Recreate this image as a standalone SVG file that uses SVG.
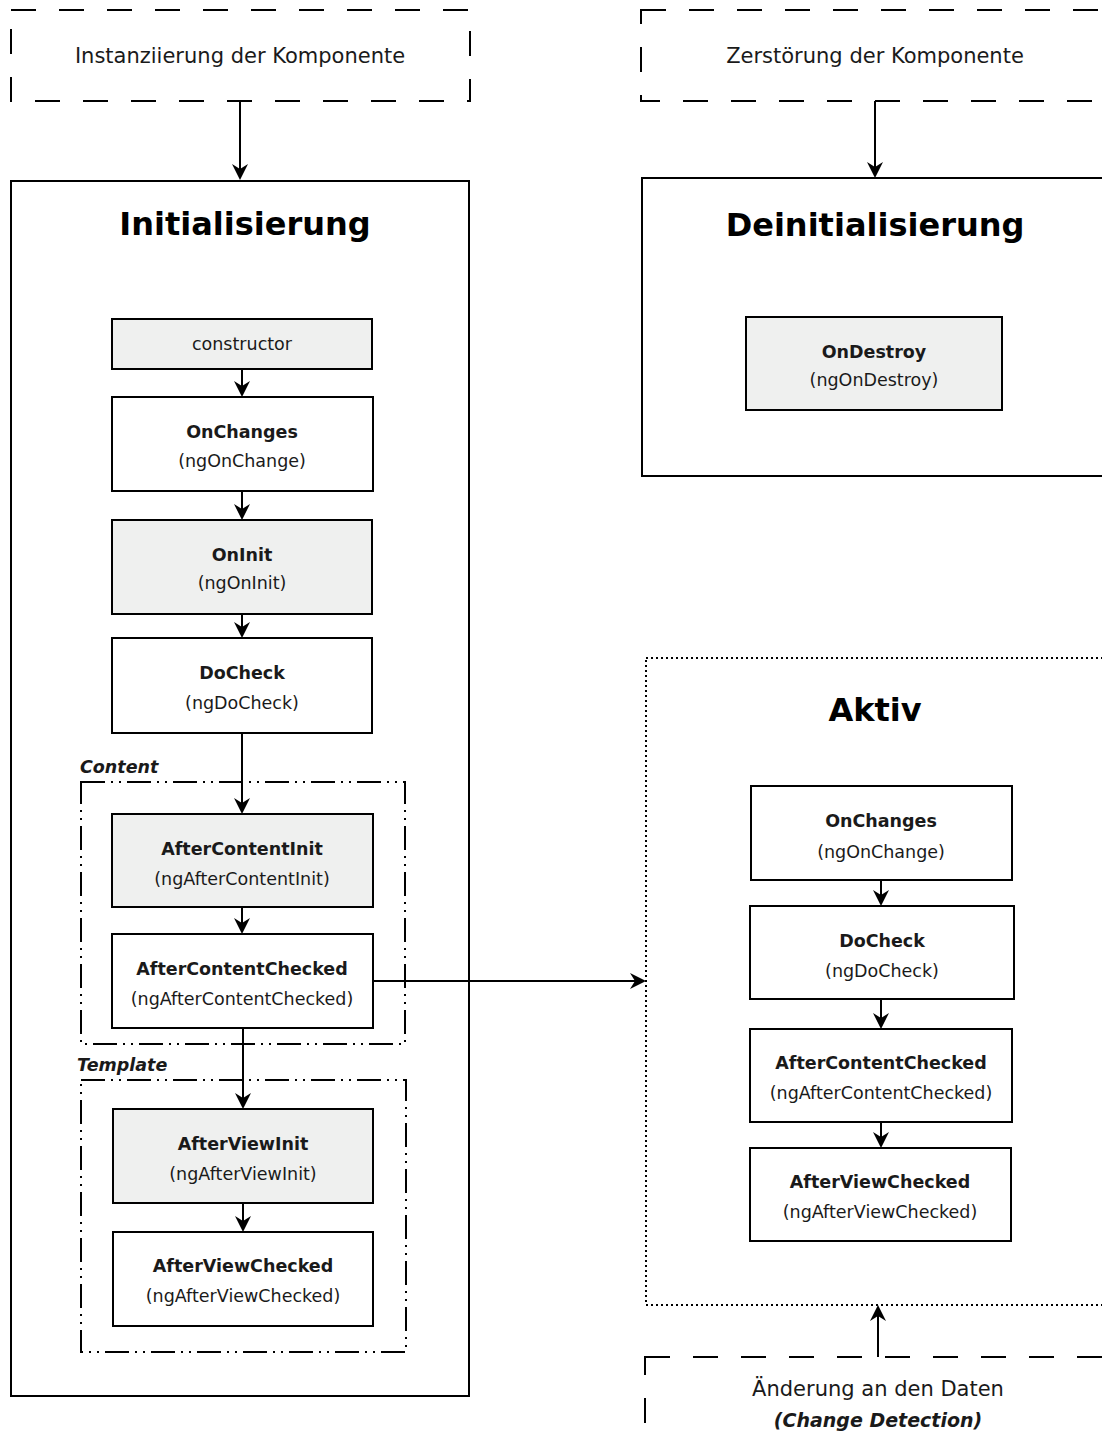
<svg xmlns="http://www.w3.org/2000/svg" width="1102" height="1444" viewBox="0 0 1102 1444">
<style>
  text { font-family: "DejaVu Sans", "Liberation Sans", sans-serif; fill: #1a1a1a; text-anchor: middle; }
  .title { font-size: 32px; font-weight: bold; fill: #000; }
  .ev { font-size: 21px; }
  .b { font-size: 17.5px; font-weight: bold; }
  .n { font-size: 17.5px; }
  .lbl { font-size: 17.5px; font-weight: bold; font-style: italic; text-anchor: start; }
  .bi { font-size: 19px; font-weight: bold; font-style: italic; }
  .box { fill: #fff; stroke: #000; stroke-width: 2; }
  .gray { fill: #eff0ef; stroke: #000; stroke-width: 2; }
  .dash { fill: none; stroke: #000; stroke-width: 2; stroke-dasharray: 25 23; }
  .dashdot { fill: none; stroke: #000; stroke-width: 2; stroke-dasharray: 24 6 2 6 2 6; }
  .dot { fill: none; stroke: #000; stroke-width: 2; stroke-dasharray: 2 3; }
  .conn { fill: none; stroke: #000; stroke-width: 2; marker-end: url(#arr); }
</style>
<defs>
  <marker id="arr" markerUnits="userSpaceOnUse" markerWidth="16" markerHeight="16" refX="5" refY="8" orient="auto">
    <path d="M0,0 L16,8 L0,16 L5,8 z" fill="#000"/>
  </marker>
</defs>
<rect width="1102" height="1444" fill="#fff"/>

<g id="instanziierung">
  <rect class="dash" x="11" y="10" width="459" height="91"/>
  <text class="ev" x="240" y="63">Instanziierung der Komponente</text>
</g>
<g id="zerstoerung">
  <rect class="dash" x="641" y="10" width="468" height="91"/>
  <text class="ev" x="875" y="63">Zerstörung der Komponente</text>
</g>

<g id="initialisierung">
  <rect class="box" x="11" y="181" width="458" height="1215" fill="none"/>
  <text class="title" x="245" y="235">Initialisierung</text>
</g>
<g id="content-group">
  <rect class="dashdot" x="81" y="782" width="324" height="262"/>
  <text class="lbl" x="80" y="773">Content</text>
</g>
<g id="template-group">
  <rect class="dashdot" x="81" y="1080" width="325" height="272"/>
  <text class="lbl" x="77" y="1071">Template</text>
</g>

<g id="constructor">
  <rect class="gray" x="112" y="319" width="260" height="50"/>
  <text class="n" x="242" y="350">constructor</text>
</g>
<g id="init-onchanges">
  <rect class="box" x="112" y="397" width="261" height="94"/>
  <text class="b" x="242" y="438">OnChanges</text>
  <text class="n" x="242" y="467">(ngOnChange)</text>
</g>
<g id="init-oninit">
  <rect class="gray" x="112" y="520" width="260" height="94"/>
  <text class="b" x="242" y="561">OnInit</text>
  <text class="n" x="242" y="589">(ngOnInit)</text>
</g>
<g id="init-docheck">
  <rect class="box" x="112" y="638" width="260" height="95"/>
  <text class="b" x="242" y="679">DoCheck</text>
  <text class="n" x="242" y="709">(ngDoCheck)</text>
</g>
<g id="init-aftercontentinit">
  <rect class="gray" x="112" y="814" width="261" height="93"/>
  <text class="b" x="242" y="855">AfterContentInit</text>
  <text class="n" x="242" y="885">(ngAfterContentInit)</text>
</g>
<g id="init-aftercontentchecked">
  <rect class="box" x="112" y="934" width="261" height="94"/>
  <text class="b" x="242" y="975">AfterContentChecked</text>
  <text class="n" x="242" y="1005">(ngAfterContentChecked)</text>
</g>
<g id="init-afterviewinit">
  <rect class="gray" x="113" y="1109" width="260" height="94"/>
  <text class="b" x="243" y="1150">AfterViewInit</text>
  <text class="n" x="243" y="1180">(ngAfterViewInit)</text>
</g>
<g id="init-afterviewchecked">
  <rect class="box" x="113" y="1232" width="260" height="94"/>
  <text class="b" x="243" y="1272">AfterViewChecked</text>
  <text class="n" x="243" y="1302">(ngAfterViewChecked)</text>
</g>

<g id="deinitialisierung">
  <rect class="box" x="642" y="178" width="468" height="298"/>
  <text class="title" x="875" y="236">Deinitialisierung</text>
</g>
<g id="ondestroy">
  <rect class="gray" x="746" y="317" width="256" height="93"/>
  <text class="b" x="874" y="358">OnDestroy</text>
  <text class="n" x="874" y="386">(ngOnDestroy)</text>
</g>

<g id="aktiv">
  <rect class="dot" x="646" y="658" width="470" height="647"/>
  <text class="title" x="875" y="721">Aktiv</text>
</g>
<g id="akt-onchanges">
  <rect class="box" x="751" y="786" width="261" height="94"/>
  <text class="b" x="881" y="827">OnChanges</text>
  <text class="n" x="881" y="858">(ngOnChange)</text>
</g>
<g id="akt-docheck">
  <rect class="box" x="750" y="906" width="264" height="93"/>
  <text class="b" x="882" y="947">DoCheck</text>
  <text class="n" x="882" y="977">(ngDoCheck)</text>
</g>
<g id="akt-aftercontentchecked">
  <rect class="box" x="750" y="1029" width="262" height="93"/>
  <text class="b" x="881" y="1069">AfterContentChecked</text>
  <text class="n" x="881" y="1099">(ngAfterContentChecked)</text>
</g>
<g id="akt-afterviewchecked">
  <rect class="box" x="750" y="1148" width="261" height="93"/>
  <text class="b" x="880" y="1188">AfterViewChecked</text>
  <text class="n" x="880" y="1218">(ngAfterViewChecked)</text>
</g>

<g id="change-detection">
  <rect class="dash" x="645" y="1357" width="465" height="120"/>
  <text class="ev" x="878" y="1396">Änderung an den Daten</text>
  <text class="bi" x="878" y="1427">(Change Detection)</text>
</g>

<g id="connectors">
  <path class="conn" d="M240,101 V169"/>
  <path class="conn" d="M875,101 V167"/>
  <path class="conn" d="M242,369 V386"/>
  <path class="conn" d="M242,491 V509"/>
  <path class="conn" d="M242,614 V627"/>
  <path class="conn" d="M242,733 V803"/>
  <path class="conn" d="M242,907 V923"/>
  <path class="conn" d="M243,1028 V1098"/>
  <path class="conn" d="M243,1203 V1221"/>
  <path class="conn" d="M373,981 H635"/>
  <path class="conn" d="M881,880 V895"/>
  <path class="conn" d="M881,999 V1018"/>
  <path class="conn" d="M881,1122 V1137"/>
  <path class="conn" d="M878,1357 V1316"/>
</g>
</svg>
